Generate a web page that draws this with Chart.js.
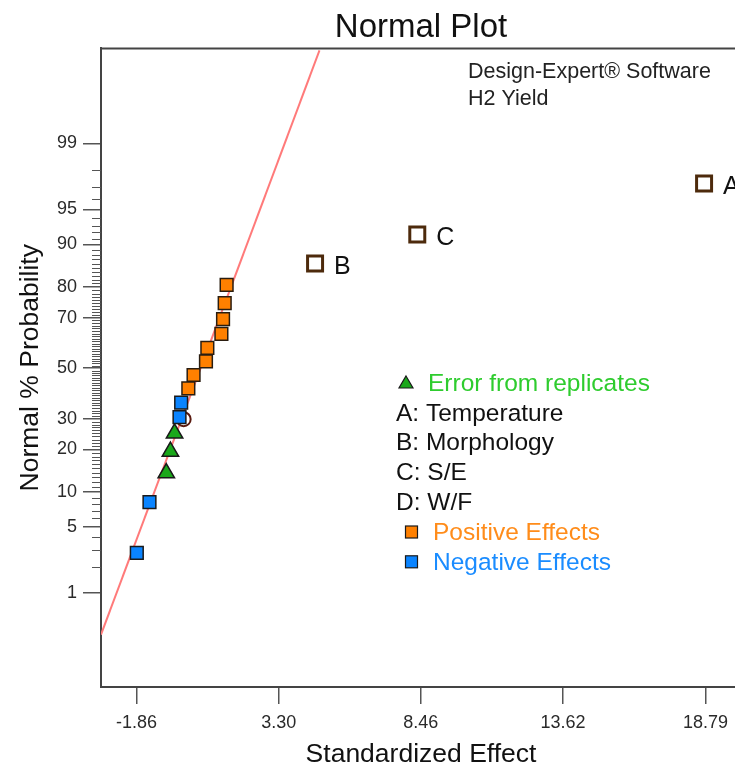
<!DOCTYPE html>
<html>
<head>
<meta charset="utf-8">
<title>Normal Plot</title>
<script src="https://cdn.jsdelivr.net/npm/chart.js@4.4.1/dist/chart.umd.min.js"></script>
<style>
  html, body { margin: 0; padding: 0; background: #fff; overflow: hidden; width: 735px; height: 769px; }
  canvas { display: block; }
</style>
</head>
<body>
<canvas id="c" width="760" height="769" style="width:760px;height:769px"></canvas>
<script>
// Standardized effects (x) with their normal probabilities in percent (y)
const positiveEffects = [1.41, 1.34, 1.28, 1.22, 0.71, 0.66, 0.21, 0.02];
const positiveProb    = [80.6, 75.0, 69.4, 63.9, 58.3, 52.8, 47.2, 41.7];

const negativeEffects = [-0.24, -0.30, -1.39, -1.85];
const negativeProb    = [36.1, 30.6, 8.3, 2.8];

const errorEffects = [-0.48, -0.63, -0.78];
const errorProb    = [25.0, 19.4, 13.9];

const termNames   = ['A', 'B', 'C'];
const termEffects = [18.74, 4.62, 8.33];
const termProb    = [97.2, 86.1, 91.7];

const circledEffects = [-0.15];
const circledProb    = [29.9];

// reference line through the error points
const fitEffects = [-3.15, 4.78];
const fitProb    = [0.29, 99.95];

// axis ticks
const xTickValues = [-1.86, 3.30, 8.46, 13.62, 18.79];
const xTickLabels = ['-1.86', '3.30', '8.46', '13.62', '18.79'];
const yTickPercents = [1, 5, 10, 20, 30, 50, 70, 80, 90, 95, 99];

const legendLabels = ['Error from replicates', 'A: Temperature', 'B: Morphology', 'C: S/E', 'D: W/F', 'Positive Effects', 'Negative Effects'];
const noteLines = ['Design-Expert\u00AE Software', 'H2 Yield'];

const FONT = "'Liberation Sans', Arial, Helvetica, sans-serif";

// inverse of the standard normal CDF (Acklam's rational approximation)
function probit(p) {
  const a = [-3.969683028665376e+01, 2.209460984245205e+02, -2.759285104469687e+02, 1.383577518672690e+02, -3.066479806614716e+01, 2.506628277459239e+00];
  const b = [-5.447609879822406e+01, 1.615858368580409e+02, -1.556989798598866e+02, 6.680131188771972e+01, -1.328068155288572e+01];
  const c = [-7.784894002430293e-03, -3.223964580411365e-01, -2.400758277161838e+00, -2.549732539343734e+00, 4.374664141464968e+00, 2.938163982698783e+00];
  const d = [7.784695709041462e-03, 3.224671290700398e-01, 2.445134137142996e+00, 3.754408661907416e+00];
  const pl = 0.02425, ph = 1 - pl;
  let q, r;
  if (p < pl) {
    q = Math.sqrt(-2 * Math.log(p));
    return (((((c[0]*q+c[1])*q+c[2])*q+c[3])*q+c[4])*q+c[5]) / ((((d[0]*q+d[1])*q+d[2])*q+d[3])*q+1);
  }
  if (p <= ph) {
    q = p - 0.5; r = q * q;
    return (((((a[0]*r+a[1])*r+a[2])*r+a[3])*r+a[4])*r+a[5])*q / (((((b[0]*r+b[1])*r+b[2])*r+b[3])*r+b[4])*r+1);
  }
  q = Math.sqrt(-2 * Math.log(1 - p));
  return -(((((c[0]*q+c[1])*q+c[2])*q+c[3])*q+c[4])*q+c[5]) / ((((d[0]*q+d[1])*q+d[2])*q+d[3])*q+1);
}

const toPoints = (xs, ps) => xs.map((x, i) => ({ x: x, y: probit(ps[i] / 100) }));

// minor ticks at every whole percent between the labelled ones
const minorPercents = [];
for (let p = 2; p <= 98; p++) if (!yTickPercents.includes(p)) minorPercents.push(p);

const decor = {
  id: 'decor',
  afterDraw(chart) {
    const ctx = chart.ctx;
    const area = chart.chartArea;
    const ys = chart.scales.y;
    ctx.save();

    // frame: top and right edges
    ctx.strokeStyle = '#444';
    ctx.lineWidth = 2;
    ctx.beginPath();
    ctx.moveTo(area.left, area.top);
    ctx.lineTo(area.right, area.top);
    ctx.lineTo(area.right, area.bottom);
    ctx.stroke();

    // minor probability ticks
    ctx.strokeStyle = '#555';
    ctx.lineWidth = 1;
    ctx.beginPath();
    minorPercents.forEach(p => {
      const y = Math.round(ys.getPixelForValue(probit(p / 100))) + 0.5;
      ctx.moveTo(area.left - 9, y);
      ctx.lineTo(area.left, y);
    });
    ctx.stroke();

    // term labels next to the significant effects
    const termMeta = chart.getDatasetMeta(3);
    ctx.fillStyle = '#111';
    ctx.font = '25px ' + FONT;
    ctx.textBaseline = 'middle';
    ctx.textAlign = 'left';
    termMeta.data.forEach((el, i) => {
      ctx.fillText(termNames[i], el.x + 19, el.y + 4);
    });

    // software note
    ctx.fillStyle = '#222';
    ctx.font = '21.5px ' + FONT;
    ctx.fillText(noteLines[0], 468, 72);
    ctx.fillText(noteLines[1], 468, 99);

    // legend
    const rowY = i => 383 + i * 29.8;
    ctx.font = '24.5px ' + FONT;
    // triangle row
    ctx.fillStyle = '#1aa81a';
    ctx.strokeStyle = '#1a1a1a';
    ctx.lineWidth = 1.2;
    ctx.beginPath();
    ctx.moveTo(406, rowY(0) - 7);
    ctx.lineTo(413, rowY(0) + 5);
    ctx.lineTo(399, rowY(0) + 5);
    ctx.closePath();
    ctx.fill(); ctx.stroke();
    ctx.fillStyle = '#2ecc2e';
    ctx.fillText(legendLabels[0], 428, rowY(0) + 1);
    // term rows
    ctx.fillStyle = '#111';
    for (let i = 1; i <= 4; i++) ctx.fillText(legendLabels[i], 396, rowY(i) + 1);
    // effect rows
    const sq = (cx, cy, fill) => {
      ctx.fillStyle = fill;
      ctx.fillRect(cx - 6, cy - 6, 12, 12);
      ctx.strokeStyle = '#1a1a1a';
      ctx.lineWidth = 1.2;
      ctx.strokeRect(cx - 6, cy - 6, 12, 12);
    };
    sq(411.5, rowY(5), '#ff8000');
    ctx.fillStyle = '#ff8c1a';
    ctx.fillText(legendLabels[5], 433, rowY(5) + 1);
    sq(411.5, rowY(6), '#0a84ff');
    ctx.fillStyle = '#1a8cff';
    ctx.fillText(legendLabels[6], 433, rowY(6) + 1);

    ctx.restore();
  }
};

new Chart(document.getElementById('c'), {
  type: 'scatter',
  data: {
    datasets: [
      {
        label: 'Positive Effects',
        data: toPoints(positiveEffects, positiveProb),
        pointStyle: 'rect', pointRadius: 9,
        backgroundColor: '#ff8000', borderColor: '#2a1d10', borderWidth: 1.5,
        order: 1
      },
      {
        label: 'Negative Effects',
        data: toPoints(negativeEffects, negativeProb),
        pointStyle: 'rect', pointRadius: 9,
        backgroundColor: '#0a84ff', borderColor: '#1a1a1a', borderWidth: 1.5,
        order: 2
      },
      {
        label: 'Error from replicates',
        data: toPoints(errorEffects, errorProb),
        pointStyle: 'triangle', pointRadius: 9.5,
        backgroundColor: '#1aa81a', borderColor: '#1a1a1a', borderWidth: 1.5,
        order: 3
      },
      {
        label: 'Terms',
        data: toPoints(termEffects, termProb),
        pointStyle: 'rect', pointRadius: 10.6,
        backgroundColor: '#ffffff', borderColor: '#4d2a0c', borderWidth: 3,
        order: 4
      },
      {
        label: 'Circled',
        data: toPoints(circledEffects, circledProb),
        pointStyle: 'circle', pointRadius: 7,
        backgroundColor: '#ffffff', borderColor: '#5a1a10', borderWidth: 2,
        order: 5
      },
      {
        label: 'Fit',
        data: toPoints(fitEffects, fitProb),
        showLine: true, pointRadius: 0,
        borderColor: '#ff7a7a', borderWidth: 2,
        order: 10
      }
    ]
  },
  options: {
    responsive: false,
    animation: false,
    events: [],
    layout: { padding: { left: 0, right: 19, top: 0, bottom: 0 } },
    plugins: {
      legend: { display: false },
      tooltip: { enabled: false },
      title: {
        display: true,
        text: 'Normal Plot',
        fullSize: false,
        color: '#111',
        font: { family: FONT, size: 33, weight: 'normal', lineHeight: 1.15 },
        padding: { top: 9, bottom: 1.5 }
      }
    },
    scales: {
      x: {
        type: 'linear',
        min: -3.15,
        max: 20.08,
        afterBuildTicks: s => { s.ticks = xTickValues.map(v => ({ value: v })); },
        afterFit: s => { s.height = 82; },
        ticks: {
          autoSkip: false,
          maxRotation: 0,
          padding: 8,
          color: '#2a2a2a',
          font: { family: FONT, size: 18 },
          callback: (v, i) => xTickLabels[i]
        },
        grid: { drawOnChartArea: false, tickLength: 17, color: '#555', lineWidth: 1.5 },
        border: { display: true, color: '#444', width: 2 },
        title: {
          display: true,
          text: 'Standardized Effect',
          color: '#111',
          font: { family: FONT, size: 26.5, lineHeight: 1.0 },
          padding: { top: 0, bottom: 1 }
        }
      },
      y: {
        type: 'linear',
        min: -3.3,
        max: 3.31,
        afterBuildTicks: s => { s.ticks = yTickPercents.map(p => ({ value: probit(p / 100) })); },
        afterFit: s => { s.width = 101; },
        ticks: {
          autoSkip: false,
          padding: 6,
          color: '#2a2a2a',
          font: { family: FONT, size: 18 },
          callback: (v, i) => String(yTickPercents[i])
        },
        grid: { drawOnChartArea: false, tickLength: 18, color: '#555', lineWidth: 1.5 },
        border: { display: true, color: '#444', width: 2 },
        title: {
          display: true,
          text: 'Normal % Probability',
          color: '#111',
          font: { family: FONT, size: 26.5, lineHeight: 1.0 },
          padding: { top: 17, bottom: 0 }
        }
      }
    }
  },
  plugins: [decor]
});
</script>
</body>
</html>
